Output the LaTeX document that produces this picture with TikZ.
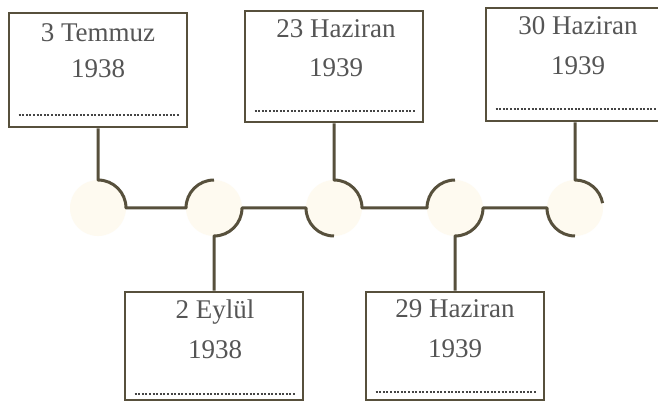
\documentclass[tikz,border=0pt]{standalone}
\usepackage{fontspec}
\setmainfont{Liberation Serif}
\usetikzlibrary{calc}
\definecolor{ink}{HTML}{57503C}
\definecolor{txt}{HTML}{555555}
\definecolor{dots}{HTML}{454545}
\definecolor{cream}{HTML}{FEFAF0}
\begin{document}
\begin{tikzpicture}[x=1pt,y=1pt,
  datebox/.style={draw=ink, line width=2.8pt, fill=white, minimum width=178pt, inner sep=0pt},
  datetext/.style={text=txt, font=\fontsize{27}{30}\selectfont, anchor=base, inner sep=0pt},
  conn/.style={draw=ink, line width=3pt, line join=round},
  dotline/.style={draw=dots, line width=2pt, dash pattern=on 2pt off 1.6pt},
  halo/.style={fill=cream, draw=none}]
\useasboundingbox (0,0) rectangle (658,402);
\clip (0,0) rectangle (658,402);
\fill[white] (0,0) rectangle (658,402);
% junction centres
\coordinate (c1) at (98,194);
\coordinate (c2) at (214,194);
\coordinate (c3) at (334,194);
\coordinate (c4) at (455,194);
\coordinate (c5) at (575,194);
\foreach \c in {c1,c2,c3,c4,c5} \fill[halo] (\c) circle[radius=28];
% boxes
\node[datebox, minimum height=114pt] (b1) at (98,332) {};
\node[datebox, minimum height=111pt] (b2) at (334,335.5) {};
\node[datebox, minimum height=113pt] (b3) at (575,337.5) {};
\node[datebox, minimum height=108pt] (b4) at (214,56) {};
\node[datebox, minimum height=108pt] (b5) at (455,56) {};
% texts
\node[datetext] (t1a) at (98,360) {3 Temmuz};
\node[datetext] (t1b) at (98,324) {1938};
\node[datetext] (t2a) at (336,364) {23 Haziran};
\node[datetext] (t2b) at (336,325) {1939};
\node[datetext] (t3a) at (578,367) {30 Haziran};
\node[datetext] (t3b) at (578,327) {1939};
\node[datetext] (t4a) at (215,84) {2 Eylül};
\node[datetext] (t4b) at (215,44) {1938};
\node[datetext] (t5a) at (455,85) {29 Haziran};
\node[datetext] (t5b) at (455,45) {1939};
% dotted lines
\draw[dotline] ($(b1.south west)+(11,13)$) -- ($(b1.south east)+(-9,13)$);
\draw[dotline] ($(b2.south west)+(11,12)$) -- ($(b2.south east)+(-9,12)$);
\draw[dotline] ($(b3.south west)+(11,13)$) -- ($(b3.south east)+(-9,13)$);
\draw[dotline] ($(b4.south west)+(11,7)$) -- ($(b4.south east)+(-9,7)$);
\draw[dotline] ($(b5.south west)+(11,9)$) -- ($(b5.south east)+(-9,9)$);
% connectors
\draw[conn] (b1.south) -- ($(c1)+(0,28)$) arc[start angle=90,end angle=0,radius=28]
  -- ($(c2)+(-28,0)$) arc[start angle=180,end angle=90,radius=28];
\draw[conn] (b4.north) -- ($(c2)+(0,-28)$) arc[start angle=270,end angle=360,radius=28]
  -- ($(c3)+(-28,0)$) arc[start angle=180,end angle=270,radius=28];
\draw[conn] (b2.south) -- ($(c3)+(0,28)$) arc[start angle=90,end angle=0,radius=28]
  -- ($(c4)+(-28,0)$) arc[start angle=180,end angle=90,radius=28];
\draw[conn] (b5.north) -- ($(c4)+(0,-28)$) arc[start angle=270,end angle=360,radius=28]
  -- ($(c5)+(-28,0)$) arc[start angle=180,end angle=270,radius=28];
\draw[conn] (b3.south) -- ($(c5)+(0,28)$) arc[start angle=90,end angle=10,radius=28];
\end{tikzpicture}
\end{document}
